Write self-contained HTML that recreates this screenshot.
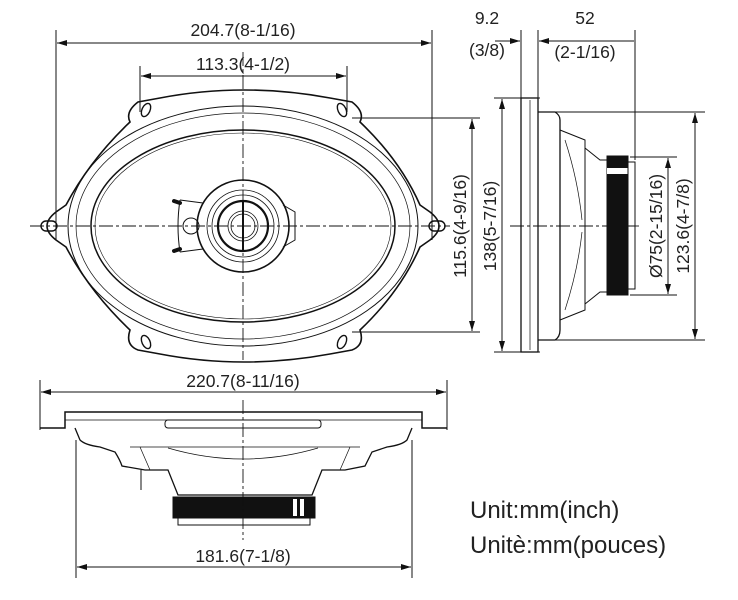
<!DOCTYPE html>
<html><head><meta charset="utf-8"><style>
html,body{margin:0;padding:0;background:#fff}
svg{display:block}
text{font-family:"Liberation Sans","DejaVu Sans",sans-serif;fill:#222}
</style></head><body>
<svg width="738" height="600" viewBox="0 0 738 600" xmlns="http://www.w3.org/2000/svg">
<defs>
<marker id="a" viewBox="0 0 10 6" refX="10" refY="3" markerWidth="10" markerHeight="6" orient="auto-start-reverse" markerUnits="userSpaceOnUse"><path d="M0,0L10,3L0,6z" fill="#111"/></marker>
</defs>
<g stroke="#111" fill="none" stroke-width="1">
<line x1="56" y1="30" x2="56" y2="240"/>
<line x1="432" y1="30" x2="432" y2="240"/>
<line x1="57" y1="43" x2="431" y2="43" marker-start="url(#a)" marker-end="url(#a)"/>
<line x1="140" y1="66" x2="140" y2="112"/>
<line x1="347" y1="66" x2="347" y2="112"/>
<line x1="141" y1="76" x2="346" y2="76" marker-start="url(#a)" marker-end="url(#a)"/>
<path stroke-width="1.6" d="M160,98 Q243,82 330,98 L352,102 Q365,112 360,122 Q400,160 420,205 L430,212 Q448,226 430,240 L420,247 Q400,292 360,330 Q365,345 352,350 L330,354 Q243,370 160,354 L138,350 Q125,345 130,330 Q90,292 66,247 L56,240 Q38,226 56,212 L66,205 Q90,160 130,122 Q125,112 138,102 Z"/>
<ellipse cx="243" cy="226" rx="175" ry="120"/>
<ellipse cx="243" cy="226" rx="167" ry="113" stroke-width="0.7"/>
<ellipse cx="243" cy="226" rx="152" ry="96" stroke-width="1.5"/>
<ellipse cx="243" cy="226" rx="148" ry="93" stroke-width="0.6"/>
<ellipse cx="146" cy="110" rx="4" ry="7" transform="rotate(25 146 110)" stroke-width="1.4"/>
<ellipse cx="342" cy="110" rx="4" ry="7" transform="rotate(-25 342 110)" stroke-width="1.4"/>
<ellipse cx="146" cy="342" rx="4" ry="7" transform="rotate(-25 146 342)" stroke-width="1.4"/>
<ellipse cx="342" cy="342" rx="4" ry="7" transform="rotate(25 342 342)" stroke-width="1.4"/>
<rect x="41" y="221" width="16" height="10" rx="5" stroke-width="1.4"/>
<rect x="429" y="221" width="16" height="10" rx="5" stroke-width="1.4"/>
<circle cx="243" cy="226" r="46" stroke-width="1.6"/>
<path d="M203,203 L180,200 M203,249 L180,252 M180,200 Q176,226 180,252"/>
<path stroke-width="4" stroke-linecap="round" d="M174,201 L180,203 M174,251 L180,249"/>
<circle cx="191" cy="226" r="8"/>
<path d="M283,205 L295,212 L295,240 L283,247"/>
<circle cx="243" cy="226" r="36" stroke-width="0.8"/>
<circle cx="243" cy="226" r="31" stroke-width="0.8"/>
<circle cx="243" cy="226" r="25" stroke-width="2.2"/>
<circle cx="243" cy="226" r="15" stroke-width="0.8"/>
<circle cx="243" cy="226" r="12" stroke-width="0.8"/>
<line x1="243" y1="200" x2="243" y2="252" stroke-width="2"/>
<line x1="243" y1="52" x2="243" y2="360" stroke-dasharray="14,3,3,3" stroke-width="0.9"/>
<line x1="30" y1="226" x2="450" y2="226" stroke-dasharray="14,3,3,3" stroke-width="0.9"/>
<line x1="352" y1="118" x2="480" y2="118"/>
<line x1="352" y1="332" x2="480" y2="332"/>
<line x1="472" y1="119" x2="472" y2="331" marker-start="url(#a)" marker-end="url(#a)"/>
<line x1="494" y1="98" x2="540" y2="98"/>
<line x1="494" y1="352" x2="540" y2="352"/>
<line x1="502" y1="99" x2="502" y2="351" marker-start="url(#a)" marker-end="url(#a)"/>

<line x1="521" y1="30" x2="521" y2="98"/>
<line x1="538" y1="30" x2="538" y2="112"/>
<line x1="635" y1="30" x2="635" y2="160"/>
<line x1="495" y1="41" x2="520" y2="41" marker-end="url(#a)"/>
<line x1="539" y1="41" x2="634" y2="41" marker-start="url(#a)"/>
<rect x="521" y="98" width="17" height="254" stroke-width="1.3"/>
<line x1="530" y1="100" x2="530" y2="350" stroke-width="0.7"/>
<path d="M538,112 L555,112 Q560,115 560,120 L560,330 Q560,337 555,340 L538,340" stroke-width="1.3"/>
<path d="M560,130 L585,140 L585,310 L560,320" />
<path d="M585,148 L600,160 L607,160 L607,292 L600,292 L585,304"/>
<path d="M565,140 Q578,180 582,220 M565,310 Q578,270 582,232" stroke-width="0.7"/>
<rect x="607" y="156" width="21" height="139" fill="#111"/>
<rect x="607" y="168" width="21" height="6" fill="#fff" stroke="none"/>
<rect x="628" y="162" width="7" height="127"/>
<line x1="540" y1="112" x2="705" y2="112"/>
<line x1="540" y1="340" x2="705" y2="340"/>
<line x1="695" y1="113" x2="695" y2="339" marker-start="url(#a)" marker-end="url(#a)"/>
<line x1="630" y1="157" x2="677" y2="157"/>
<line x1="630" y1="295" x2="677" y2="295"/>
<line x1="668" y1="158" x2="668" y2="294" marker-start="url(#a)" marker-end="url(#a)"/>
<line x1="510" y1="226" x2="640" y2="226" stroke-dasharray="14,3,3,3" stroke-width="0.9"/>

<line x1="40" y1="380" x2="40" y2="430"/>
<line x1="447" y1="380" x2="447" y2="430"/>
<line x1="41" y1="392" x2="446" y2="392" marker-start="url(#a)" marker-end="url(#a)"/>
<path stroke-width="1.5" d="M40,428 L65,428 L65,412 L422,412 L422,428 L447,428"/>
<line x1="65" y1="420" x2="422" y2="420" stroke-width="0.7"/>
<rect x="165" y="420" width="156" height="8" rx="3"/>
<path stroke-width="1.3" d="M75,428 L80,440 Q85,445 100,447 L115,452 Q120,460 122,466 L145,470 L168,470 L178,495 L312,495 L322,470 L345,470 L365,466 Q368,460 372,452 L387,447 Q402,445 407,440 L412,428"/>
<path d="M130,447 L360,447 M140,447 L150,470 M350,447 L340,470 M168,448 Q243,470 318,448" stroke-width="0.7"/>
<line x1="141" y1="470" x2="141" y2="490"/>
<rect x="173" y="497" width="142" height="21" fill="#111"/>
<rect x="293" y="499" width="4" height="17" fill="#fff" stroke="none"/>
<rect x="300" y="499" width="4" height="17" fill="#fff" stroke="none"/>
<path d="M178,518 L178,525 L310,525 L310,518"/>
<line x1="76" y1="440" x2="76" y2="578"/>
<line x1="412" y1="440" x2="412" y2="578"/>
<line x1="77" y1="567" x2="411" y2="567" marker-start="url(#a)" marker-end="url(#a)"/>
<line x1="243" y1="400" x2="243" y2="540" stroke-dasharray="14,3,3,3" stroke-width="0.9"/>
</g>
<g font-size="17.5">
<text x="243" y="36" text-anchor="middle">204.7(8-1/16)</text>
<text x="243" y="70" text-anchor="middle">113.3(4-1/2)</text>
<text x="487" y="24" text-anchor="middle">9.2</text>
<text x="487" y="56" text-anchor="middle">(3/8)</text>
<text x="585" y="24" text-anchor="middle">52</text>
<text x="585" y="58" text-anchor="middle">(2-1/16)</text>
<text transform="translate(466,226) rotate(-90)" text-anchor="middle">115.6(4-9/16)</text>
<text transform="translate(496,226) rotate(-90)" text-anchor="middle">138(5-7/16)</text>
<text transform="translate(662,226) rotate(-90)" text-anchor="middle">Ø75(2-15/16)</text>
<text transform="translate(689,226) rotate(-90)" text-anchor="middle">123.6(4-7/8)</text>
<text x="243" y="387" text-anchor="middle">220.7(8-11/16)</text>
<text x="243" y="562" text-anchor="middle">181.6(7-1/8)</text>
</g>
<text x="470" y="518" font-size="24">Unit:mm(inch)</text>
<text x="470" y="553" font-size="24">Unitè:mm(pouces)</text>
</svg>
</body></html>
